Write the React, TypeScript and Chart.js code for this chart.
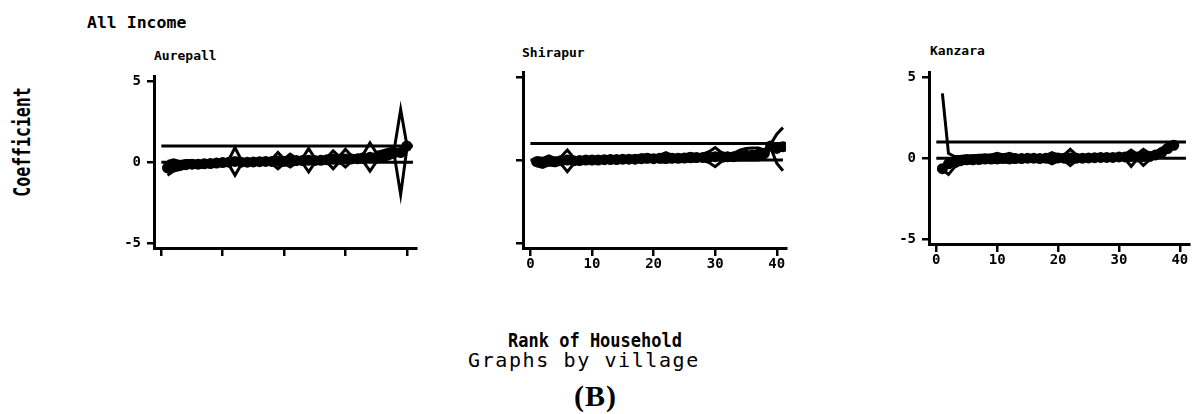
import React, { useEffect, useRef } from "react";
import { Chart, registerables } from "chart.js";

Chart.register(...registerables);

// ---------- data ----------
const xTickValues = [0, 10, 20, 30, 40];
const yTickValues = [-5, 0, 5];
const refLineX = [0, 41];
const refLevels = [0, 1];

const mainTitle = "All Income";
const yTitle = "Coefficient";
const xTitle = "Rank of Household";
const byNote = "Graphs by village";
const panelLabel = "(B)";
const villages = ["Aurepall", "Shirapur", "Kanzara"];

const aurepallRank = [1, 2, 3, 4, 5, 6, 7, 8, 9, 10, 11, 12, 13, 14, 15, 16, 17, 18, 19, 20, 21, 22, 23, 24, 25, 26, 27, 28, 29, 30, 31, 32, 33, 34, 35, 36, 37, 38, 39, 40];
const aurepallEst = [-0.35, -0.25, -0.2, -0.15, -0.12, -0.12, -0.1, -0.08, -0.05, -0.02, 0.0, 0.05, 0.0, 0.0, 0.02, 0.03, 0.05, 0.05, 0.08, 0.05, 0.08, 0.1, 0.1, 0.12, 0.1, 0.12, 0.15, 0.18, 0.18, 0.2, 0.2, 0.22, 0.25, 0.3, 0.3, 0.4, 0.5, 0.6, 0.6, 1.0];
const aurepallUpper = [0.05, 0.15, 0.05, 0.1, 0.1, 0.05, 0.1, 0.1, 0.12, 0.15, 0.15, 0.9, 0.15, 0.12, 0.18, 0.15, 0.2, 0.18, 0.6, 0.2, 0.5, 0.25, 0.25, 0.85, 0.25, 0.3, 0.3, 0.7, 0.35, 0.8, 0.38, 0.4, 0.55, 1.2, 0.6, 0.7, 0.8, 0.9, 3.25, 1.1];
const aurepallLower = [-0.8, -0.55, -0.45, -0.35, -0.3, -0.32, -0.28, -0.25, -0.2, -0.18, -0.15, -0.8, -0.15, -0.12, -0.1, -0.1, -0.08, -0.08, -0.4, -0.08, -0.3, -0.05, -0.05, -0.6, -0.05, -0.02, 0.0, -0.4, 0.02, -0.3, 0.05, 0.05, 0.0, -0.55, 0.0, 0.1, 0.2, 0.35, -2.0, 0.8];

const shirapurRank = [1, 2, 3, 4, 5, 6, 7, 8, 9, 10, 11, 12, 13, 14, 15, 16, 17, 18, 19, 20, 21, 22, 23, 24, 25, 26, 27, 28, 29, 30, 31, 32, 33, 34, 35, 36, 37, 38, 39, 40, 41];
const shirapurEst = [-0.1, -0.15, -0.05, -0.1, -0.05, 0.0, -0.05, -0.03, 0.0, 0.0, 0.0, 0.02, 0.03, 0.03, 0.05, 0.05, 0.05, 0.08, 0.1, 0.08, 0.1, 0.12, 0.1, 0.1, 0.12, 0.15, 0.15, 0.15, 0.18, 0.2, 0.2, 0.2, 0.2, 0.25, 0.3, 0.3, 0.35, 0.4, 0.85, 0.7, 0.8];
const shirapurUpper = [0.15, 0.1, 0.25, 0.1, 0.2, 0.6, 0.15, 0.15, 0.15, 0.18, 0.18, 0.18, 0.2, 0.2, 0.2, 0.22, 0.22, 0.3, 0.32, 0.25, 0.3, 0.45, 0.3, 0.28, 0.3, 0.4, 0.32, 0.35, 0.5, 0.75, 0.45, 0.35, 0.4, 0.6, 0.7, 0.72, 0.72, 0.6, 0.95, 1.55, 1.95];
const shirapurLower = [-0.35, -0.45, -0.3, -0.35, -0.25, -0.7, -0.25, -0.2, -0.15, -0.15, -0.12, -0.12, -0.12, -0.1, -0.1, -0.08, -0.08, -0.12, -0.1, -0.08, -0.1, -0.15, -0.08, -0.05, -0.05, -0.1, -0.05, -0.02, -0.15, -0.4, -0.1, 0.0, -0.02, 0.0, 0.0, 0.0, 0.0, 0.1, 0.75, -0.2, -0.65];

const kanzaraRank = [1, 2, 3, 4, 5, 6, 7, 8, 9, 10, 11, 12, 13, 14, 15, 16, 17, 18, 19, 20, 21, 22, 23, 24, 25, 26, 27, 28, 29, 30, 31, 32, 33, 34, 35, 36, 37, 38, 39];
const kanzaraEst = [-0.65, -0.35, -0.25, -0.15, -0.1, -0.1, -0.08, -0.05, -0.05, 0.0, -0.02, 0.0, -0.02, -0.02, 0.0, 0.0, -0.02, 0.0, 0.0, 0.02, 0.0, 0.02, 0.0, 0.0, 0.02, 0.03, 0.05, 0.05, 0.05, 0.08, 0.08, 0.1, 0.08, 0.1, 0.1, 0.2, 0.35, 0.6, 0.8];
const kanzaraUpper = [4.0, 0.3, 0.1, 0.12, 0.15, 0.15, 0.18, 0.2, 0.2, 0.3, 0.2, 0.3, 0.18, 0.15, 0.15, 0.15, 0.15, 0.18, 0.35, 0.2, 0.2, 0.55, 0.2, 0.15, 0.15, 0.18, 0.2, 0.2, 0.2, 0.22, 0.25, 0.5, 0.25, 0.55, 0.3, 0.4, 0.6, 0.9, 0.85];
const kanzaraLower = [-0.7, -1.0, -0.55, -0.35, -0.3, -0.28, -0.25, -0.22, -0.2, -0.3, -0.2, -0.3, -0.2, -0.2, -0.18, -0.18, -0.2, -0.18, -0.35, -0.18, -0.15, -0.45, -0.15, -0.15, -0.12, -0.12, -0.1, -0.1, -0.08, -0.08, -0.05, -0.5, -0.05, -0.45, -0.1, 0.0, 0.15, 0.4, 0.75];

// ---------- layout / style ----------
const MONO = '"DejaVu Sans Mono", "Liberation Mono", monospace';
const X_MIN = -1.2;
const X_MAX = 41.5;
const Y_MIN = -5.3;
const Y_MAX = 5.3;

type Box = { left: number; top: number; w: number; h: number };

type PanelProps = {
  rank: number[];
  est: number[];
  upper: number[];
  lower: number[];
  showX: boolean;
  showY: boolean;
  box: Box;
};

function Panel({ rank, est, upper, lower, showX, showY, box }: PanelProps) {
  const ref = useRef<HTMLCanvasElement | null>(null);
  useEffect(() => {
    if (!ref.current) return;
    const pts = (ys: number[]) => rank.map((r, i) => ({ x: r, y: ys[i] }));
    const base = {
      borderColor: "#000",
      backgroundColor: "#000",
      pointRadius: 0,
      fill: false,
      tension: 0,
    };
    const chart = new Chart(ref.current, {
      type: "line",
      data: {
        datasets: [
          ...refLevels.map((lv) => ({
            ...base,
            data: refLineX.map((x) => ({ x, y: lv })),
            borderWidth: 3,
          })),
          { ...base, data: pts(upper), borderWidth: 3 },
          { ...base, data: pts(lower), borderWidth: 3 },
          { ...base, data: pts(est), borderWidth: 6, pointRadius: 2.5 },
        ],
      },
      options: {
        animation: false,
        responsive: false,
        maintainAspectRatio: false,
        events: [],
        layout: { padding: { top: 10, right: 14, left: 0, bottom: 0 } },
        plugins: { legend: { display: false }, tooltip: { enabled: false }, title: { display: false } },
        scales: {
          x: {
            type: "linear",
            min: X_MIN,
            max: X_MAX,
            afterBuildTicks: (axis: any) => {
              axis.ticks = xTickValues.map((v) => ({ value: v }));
            },
            afterFit: (s: any) => {
              s.height = 30;
            },
            ticks: {
              display: showX,
              color: "#000",
              padding: 0,
              maxRotation: 0,
              autoSkip: false,
              font: { family: MONO, size: 14, weight: "bold" },
              callback: (v: any) => String(v),
            },
            grid: { drawOnChartArea: false, drawTicks: true, tickLength: 8, color: "#000", lineWidth: 2.5 },
            border: { display: true, color: "#000", width: 3 },
          },
          y: {
            type: "linear",
            min: Y_MIN,
            max: Y_MAX,
            afterBuildTicks: (axis: any) => {
              axis.ticks = yTickValues.map((v) => ({ value: v }));
            },
            afterFit: (s: any) => {
              s.width = 40;
            },
            ticks: {
              display: showY,
              color: "#000",
              padding: 6,
              font: { family: MONO, size: 14, weight: "bold" },
              callback: (v: any) => String(v),
            },
            grid: { drawOnChartArea: false, drawTicks: true, tickLength: 7, color: "#000", lineWidth: 2.5 },
            border: { display: true, color: "#000", width: 3 },
          },
        },
      },
    } as any);
    return () => chart.destroy();
  }, []);
  return (
    <canvas
      ref={ref}
      width={box.w}
      height={box.h}
      style={{ position: "absolute", left: box.left, top: box.top, width: box.w, height: box.h }}
    />
  );
}

const txt = (extra: React.CSSProperties): React.CSSProperties => ({
  position: "absolute",
  whiteSpace: "nowrap",
  lineHeight: 1,
  color: "#000",
  margin: 0,
  ...extra,
});

export default function App() {
  return (
    <div
      style={{
        position: "fixed",
        left: 0,
        top: 0,
        width: 1193,
        height: 414,
        overflow: "hidden",
        background: "#fff",
      }}
    >
      <div style={txt({ left: 87, top: 14.5, fontFamily: MONO, fontWeight: "bold", fontSize: 16.5 })}>{mainTitle}</div>
      <div
        style={txt({
          left: 24,
          top: 142,
          fontFamily: MONO,
          fontWeight: "bold",
          fontSize: 16.5,
          transform: "translate(-50%, -50%) rotate(-90deg) scaleY(1.35)",
          transformOrigin: "center",
        })}
      >
        {yTitle}
      </div>
      <div style={txt({ left: 154, top: 49, fontFamily: MONO, fontWeight: "bold", fontSize: 13 })}>{villages[0]}</div>
      <div style={txt({ left: 522, top: 46, fontFamily: MONO, fontWeight: "bold", fontSize: 13 })}>{villages[1]}</div>
      <div style={txt({ left: 930, top: 44, fontFamily: MONO, fontWeight: "bold", fontSize: 13 })}>{villages[2]}</div>

      <Panel rank={aurepallRank} est={aurepallEst} upper={aurepallUpper} lower={aurepallLower} showX={false} showY={true} box={{ left: 114, top: 62, w: 316, h: 216 }} />
      <Panel rank={shirapurRank} est={shirapurEst} upper={shirapurUpper} lower={shirapurLower} showX={true} showY={false} box={{ left: 483, top: 62, w: 317, h: 216 }} />
      <Panel rank={kanzaraRank} est={kanzaraEst} upper={kanzaraUpper} lower={kanzaraLower} showX={true} showY={true} box={{ left: 889, top: 58, w: 314, h: 216 }} />

      <div
        style={txt({
          left: 508,
          top: 332,
          fontFamily: MONO,
          fontWeight: "bold",
          fontSize: 17,
          transform: "scaleY(1.12)",
          transformOrigin: "center",
        })}
      >
        {xTitle}
      </div>
      <div style={txt({ left: 468, top: 350, fontFamily: MONO, fontSize: 20, letterSpacing: 1.6 })}>{byNote}</div>
      <div style={txt({ left: 574, top: 380.6, fontFamily: '"Liberation Serif", "DejaVu Serif", serif', fontWeight: "bold", fontSize: 30, letterSpacing: 1 })}>
        {panelLabel}
      </div>
    </div>
  );
}
